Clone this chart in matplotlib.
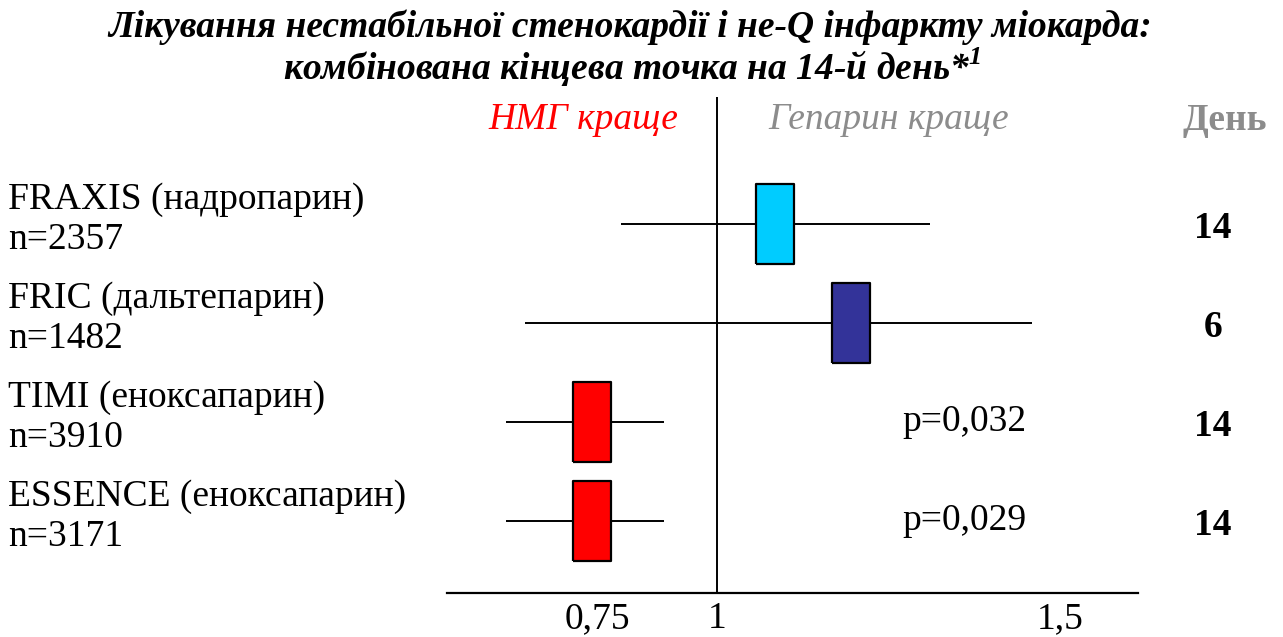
import numpy as np
import matplotlib
matplotlib.use("Agg")
import matplotlib.pyplot as plt
from matplotlib.transforms import blended_transform_factory

# ---- data ----
trials = ["FRAXIS (надропарин)", "FRIC (дальтепарин)", "TIMI (еноксапарин)", "ESSENCE (еноксапарин)"]
n_pat = [2357, 1482, 3910, 3171]
est = [1.085, 1.195, 0.74, 0.74]
ci_lo = [0.80, 0.60, 0.56, 0.56]
ci_hi = [1.31, 1.46, 0.89, 0.89]
box_colors = ["#00ccff", "#333399", "#ff0000", "#ff0000"]
days = [14, 6, 14, 14]
pvals = [None, None, "0,032", "0,029"]
xticks = [0.75, 1, 1.5]
xticklabels = ["0,75", "1", "1,5"]

SERIF = "Liberation Serif"
FS = 27
plt.rcParams.update({"font.family": SERIF, "mathtext.fontset": "custom",
                     "mathtext.rm": "Liberation Serif:bold:italic"})


# the slide's axis is stretched more on the right of 1 than on the left
def fwd(x):
    x = np.asarray(x, dtype=float)
    return np.where(x < 1, (x - 1) * 0.7, x - 1)


def inv(y):
    y = np.asarray(y, dtype=float)
    return np.where(y < 0, y / 0.7 + 1, y + 1)


fig = plt.figure(figsize=(12.83, 6.37), dpi=100)
ax = fig.add_axes([447 / 1283, 1 - 593 / 637, (1138 - 447) / 1283, (593 - 97) / 637])
ax.set_xscale("function", functions=(fwd, inv))
ax.set_xlim(0.4375, 1.614)
ax.set_ylim(3.73, -1.28)

rows = np.arange(len(trials))
ax.axvline(1, color="black", lw=1.4, zorder=1)
ax.hlines(rows, ci_lo, ci_hi, color="black", lw=1.4, zorder=2)
box = [(-0.475, -1), (0.475, -1), (0.475, 1), (-0.475, 1), (-0.475, -1)]
for r, e, c in zip(rows, est, box_colors):
    ax.plot(e, r, marker=box, ms=57.6, mfc=c, mec="black", mew=1.6, ls="none", zorder=3)

ax.set_xticks(xticks)
ax.set_xticklabels(xticklabels, fontsize=FS)
ax.tick_params(axis="x", length=0, pad=6)
ax.set_yticks([])
for s in ("top", "right", "left"):
    ax.spines[s].set_visible(False)
ax.spines["bottom"].set_linewidth(1.6)

# row labels, p-values and day column
tr = blended_transform_factory(fig.transFigure, ax.transData)
for r, name, n in zip(rows, trials, n_pat):
    fig.text(8 / 1283, r - 0.04, f"{name}\nn={n}", transform=tr, fontsize=FS, ha="left", va="center",
             linespacing=1.2)
for r, p in zip(rows, pvals):
    if p:
        fig.text(964 / 1283, r, f"p={p}", transform=tr, fontsize=FS, ha="center", va="center")
for r, d in zip(rows, days):
    fig.text(1213 / 1283, r + 0.05, str(d), transform=tr, fontsize=FS, ha="center", va="center",
             fontweight="bold")

fig.text(583 / 1283, 1 - 120 / 637, "НМГ краще", color="#ff0000", fontsize=FS, style="italic",
         ha="center", va="center")
fig.text(889 / 1283, 1 - 120 / 637, "Гепарин краще", color="#8c8c8c", fontsize=FS, style="italic",
         ha="center", va="center")
fig.text(1225 / 1283, 1 - 120 / 637, "День", color="#8c8c8c", fontsize=FS, fontweight="bold",
         ha="center", va="center")

fig.text(630 / 1283, 1 - 27 / 637, "Лікування нестабільної стенокардії і не-Q інфаркту міокарда:",
         fontsize=FS, fontweight="bold", style="italic", ha="center", va="center")
fig.text(632 / 1283, 1 - 67 / 637, r"комбінована кінцева точка на 14-й день*$^{1}$",
         fontsize=FS, fontweight="bold", style="italic", ha="center", va="center")

fig.savefig("out.png", dpi=100)
